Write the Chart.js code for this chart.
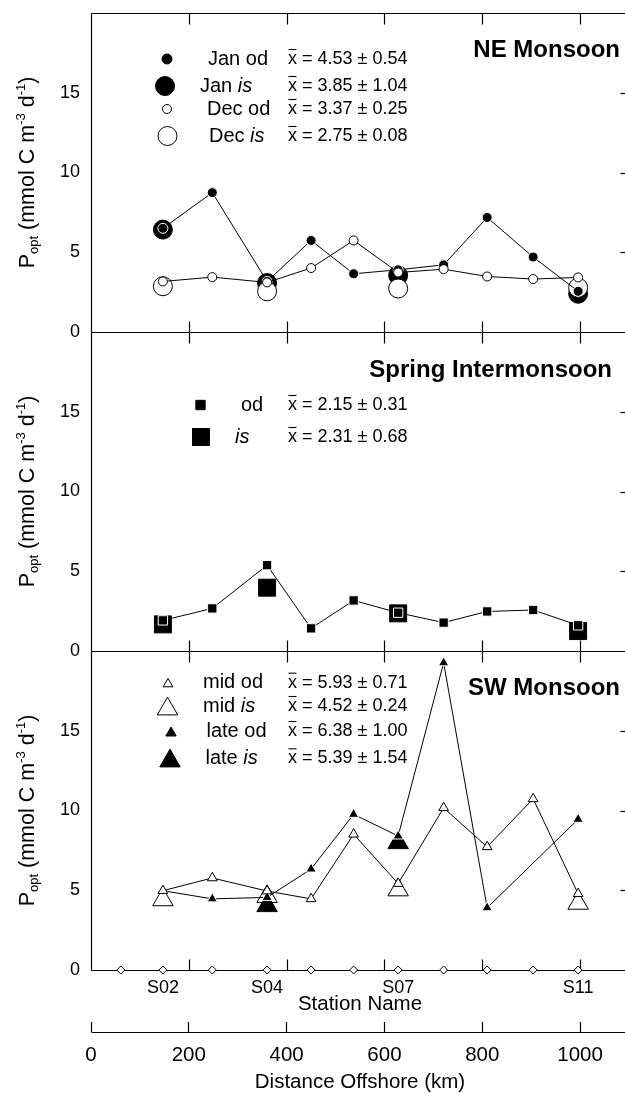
<!DOCTYPE html>
<html>
<head>
<meta charset="utf-8">
<script src="https://cdn.jsdelivr.net/npm/chart.js@4.4.1/dist/chart.umd.min.js"></script>
<style>
  html, body { margin: 0; padding: 0; background: #fff; overflow: hidden; }
  #wrap { position: relative; width: 630px; height: 1093px; }
</style>
</head>
<body>
<div id="wrap"><canvas id="c" width="630" height="1093"></canvas></div>
<script>
// Stations along the transect
const stationNames = ['S01','S02','S03','S04','S05','S06','S07','S08','S09','S10','S11'];
const stationKm    = [61, 147, 248, 360, 450, 537, 628, 721, 810, 904, 996];
const labelledStations = ['S02','S04','S07','S11'];
const distanceTicks = [0, 200, 400, 600, 800, 1000];
const yTicks = [0, 5, 10, 15];

// NE Monsoon, Popt (mmol C m-3 d-1)
const neJanOd = [null, 6.50, 8.74, 3.17, 5.74, 3.65, 3.90, 4.21, 7.18, 4.70, 2.55];
const neJanIs = [null, 6.42, null, 3.07, null, null, 3.55, null, null, null, 2.40];
const neDecOd = [null, 3.17, 3.44, 3.11, 4.01, 5.74, 3.73, 3.94, 3.48, 3.32, 3.42];
const neDecIs = [null, 2.87, null, 2.55, null, null, 2.73, null, null, null, 2.78];

// Spring Intermonsoon
const siOd = [null, 1.92, 2.67, 5.38, 1.42, 3.17, 2.40, 1.78, 2.48, 2.57, 1.61];
const siIs = [null, 1.67, null, 3.97, null, null, 2.36, null, null, null, 1.25];

// SW Monsoon
const swMidOd  = [null, 4.97, 5.77, 4.95, 4.46, 8.51, 5.42, 10.17, 7.72, 10.73, 4.78];
const swMidIs  = [null, 4.40, null, 4.60, null, null, 5.02, null, null, null, 4.18];
const swLateOd = [null, 4.97, 4.46, 4.55, 6.33, 9.76, 8.40, 19.26, 3.90, null, 9.45];
const swLateIs = [null, null, null, 4.03, null, null, 7.98, null, null, null, null];

// Means and standard errors quoted in the panel keys
const neMean = ['4.53', '3.85', '3.37', '2.75'];
const neSE   = ['0.54', '1.04', '0.25', '0.08'];
const siMean = ['2.15', '2.31'];
const siSE   = ['0.31', '0.68'];
const swMean = ['5.93', '4.52', '6.38', '5.39'];
const swSE   = ['0.71', '0.24', '1.00', '1.54'];

const FONT = "'Liberation Sans', Arial, Helvetica, sans-serif";
Chart.defaults.font.family = FONT;
Chart.defaults.color = '#000';

const toPoints = vals => vals.map((v, i) => v == null ? null : { x: stationKm[i], y: v }).filter(p => p);

const SMALL_FILLED = { fill: '#000', edge: '#fff' };
const OPEN         = { fill: '#fff', edge: '#000' };
const BIG_FILLED   = { fill: '#000', edge: '#000' };

function series(label, vals, yAxisID, look, style, r, line, order) {
  return {
    label, data: toPoints(vals), xAxisID: 'x', yAxisID,
    showLine: line, borderColor: '#000', borderWidth: 1,
    pointStyle: style, pointRadius: r, pointHoverRadius: r,
    pointBackgroundColor: look.fill, pointBorderColor: look.edge,
    pointBorderWidth: 1, pointHoverBorderWidth: 1,
    order, clip: false
  };
}

const datasets = [
  // NE Monsoon
  series('Jan is', neJanIs, 'y1', BIG_FILLED, 'circle', 9.5, false, 14),
  series('Dec is', neDecIs, 'y1', OPEN, 'circle', 9.5, false, 13),
  series('Jan od', neJanOd, 'y1', SMALL_FILLED, 'circle', 5, true, 12),
  series('Dec od', neDecOd, 'y1', OPEN, 'circle', 4.5, true, 11),
  // Spring Intermonsoon
  series('is', siIs, 'y2', BIG_FILLED, 'rect', 12, false, 10),
  series('od', siOd, 'y2', SMALL_FILLED, 'rect', 6.6, true, 9),
  // SW Monsoon
  series('mid is', swMidIs, 'y3', OPEN, 'triangle', 11.8, false, 8),
  series('late is', swLateIs, 'y3', BIG_FILLED, 'triangle', 11.8, false, 7),
  series('late od', swLateOd, 'y3', SMALL_FILLED, 'triangle', 6, true, 6),
  series('mid od', swMidOd, 'y3', OPEN, 'triangle', 5.6, true, 5),
  // station positions on the bottom axis
  {
    label: 'stations', data: stationKm.map(k => ({ x: k, y: 0 })), xAxisID: 'x', yAxisID: 'y3',
    showLine: false, pointStyle: 'rectRot', pointRadius: 4, pointHoverRadius: 4,
    pointBackgroundColor: '#fff', pointBorderColor: '#000', pointBorderWidth: 1,
    order: 0, clip: false
  }
];

// no extra label overhang around the plotting area
const noOverhang = s => { s.paddingLeft = 0; s.paddingRight = 0; s.paddingTop = 0; s.paddingBottom = 0; };

function panelAxis(weight) {
  return {
    type: 'linear', position: 'left', stack: 'panels', stackWeight: 1, weight,
    min: 0, max: 20,
    afterBuildTicks: s => { s.ticks = yTicks.map(v => ({ value: v })); },
    afterFit: s => { s.width = 91; noOverhang(s); },
    grid: { display: false, drawTicks: false },
    border: { display: false },
    ticks: { font: { size: 18 }, color: '#000', padding: 11, callback: v => String(v) }
  };
}

// Panel frames, inward tick marks and the distance axis line
const framePlugin = {
  id: 'frames',
  beforeDatasetsDraw(chart) {
    const { ctx, chartArea } = chart;
    const xS = chart.scales.x;
    const L = Math.round(chartArea.left) + 0.5, R = Math.round(chartArea.right) - 0.5;
    const seg = (x1, y1, x2, y2) => { ctx.beginPath(); ctx.moveTo(x1, y1); ctx.lineTo(x2, y2); ctx.stroke(); };
    ctx.save();
    ctx.strokeStyle = '#000';
    ctx.lineWidth = 1.2;
    ['y1', 'y2', 'y3'].forEach(id => {
      const s = chart.scales[id];
      const y0 = Math.round(s.getPixelForValue(0)) + 0.5;
      const yTop = Math.round(s.getPixelForValue(20)) + 0.5;
      seg(L, yTop, R, yTop);
      seg(L, y0, R, y0);
      seg(L, yTop, L, y0);
      seg(R, yTop, R, y0);
      distanceTicks.forEach(v => {
        if (v === 0) return;
        const x = Math.round(xS.getPixelForValue(v)) + 0.5;
        seg(x, yTop, x, yTop + 11);
        seg(x, y0, x, y0 - 11);
      });
      yTicks.forEach(v => {
        if (v === 0) return;
        const y = Math.round(s.getPixelForValue(v)) + 0.5;
        seg(R - 8, y, R, y);
      });
    });
    // distance axis baseline below its tick marks
    const yd = Math.round(xS.top + 10) + 0.5;
    seg(L, yd, R + 2, yd);
    ctx.restore();
  }
};

// Y titles with sub/superscripts
function drawYTitle(ctx, cx, cy) {
  const big = `21.5px ${FONT}`, small = `13px ${FONT}`;
  const parts = [['P', big, 0], ['opt', small, 4], [' (mmol C m', big, 0], ['-3', small, -9],
                 [' d', big, 0], ['-1', small, -9], [')', big, 0]];
  ctx.save();
  ctx.translate(cx, cy);
  ctx.rotate(-Math.PI / 2);
  ctx.fillStyle = '#000';
  ctx.textBaseline = 'alphabetic';
  ctx.textAlign = 'left';
  let total = 0;
  parts.forEach(p => { ctx.font = p[1]; total += ctx.measureText(p[0]).width; });
  let x = -total / 2;
  parts.forEach(p => { ctx.font = p[1]; ctx.fillText(p[0], x, p[2]); x += ctx.measureText(p[0]).width; });
  ctx.restore();
}

// "x̄ = m ± se" with an overbar drawn above the x
function drawStat(ctx, x, y, mean, se) {
  ctx.font = `18px ${FONT}`;
  ctx.textAlign = 'left';
  ctx.textBaseline = 'middle';
  ctx.fillText('x', x, y);
  const w = ctx.measureText('x').width;
  ctx.save();
  ctx.lineWidth = 1.1;
  ctx.beginPath();
  ctx.moveTo(x + 0.5, y - 9.5);
  ctx.lineTo(x + w - 0.5, y - 9.5);
  ctx.stroke();
  ctx.restore();
  ctx.fillText(` = ${mean} \u00B1 ${se}`, x + w, y);
}

function drawLabel(ctx, x, y, name, tag) {
  ctx.textAlign = 'left';
  ctx.textBaseline = 'middle';
  let cx = x;
  if (name) {
    ctx.font = `20px ${FONT}`;
    ctx.fillText(name + ' ', cx, y);
    cx += ctx.measureText(name + ' ').width;
  }
  ctx.font = (tag === 'is' ? 'italic ' : '') + `20px ${FONT}`;
  ctx.fillText(tag, cx, y);
}

function drawSymbol(ctx, style, r, look, x, y) {
  ctx.save();
  ctx.fillStyle = look.fill === '#fff' ? '#fff' : '#000';
  ctx.strokeStyle = '#000';
  ctx.lineWidth = 1;
  Chart.helpers.drawPoint(ctx, { pointStyle: style, radius: r, borderWidth: 1, rotation: 0 }, x, y);
  ctx.restore();
}

const keyPlugin = {
  id: 'keys',
  afterDatasetsDraw(chart) {
    const { ctx } = chart;
    ctx.save();
    ctx.fillStyle = '#000';

    ['y1', 'y2', 'y3'].forEach(id => {
      const s = chart.scales[id];
      drawYTitle(ctx, 34, (s.top + s.bottom) / 2);
    });

    // panel headings
    ctx.font = `bold 24px ${FONT}`;
    ctx.textAlign = 'right';
    ctx.textBaseline = 'middle';
    ctx.fillText('NE Monsoon', 620, 50);
    ctx.fillText('Spring Intermonsoon', 612, 370);
    ctx.fillText('SW Monsoon', 620, 688);

    // NE Monsoon key
    const ne = [
      ['circle', 5, BIG_FILLED, 167, 59, 208, 'Jan', 'od'],
      ['circle', 9.5, BIG_FILLED, 165, 86, 200, 'Jan', 'is'],
      ['circle', 4.5, OPEN, 167, 109, 207, 'Dec', 'od'],
      ['circle', 9.5, OPEN, 167.5, 136, 209, 'Dec', 'is']
    ];
    ne.forEach((k, i) => {
      drawSymbol(ctx, k[0], k[1], k[2], k[3], k[4]);
      ctx.fillStyle = '#000';
      drawLabel(ctx, k[5], k[4], k[6], k[7]);
      drawStat(ctx, 288, k[4], neMean[i], neSE[i]);
    });

    // Spring Intermonsoon key
    const si = [
      ['rect', 6.6, BIG_FILLED, 200.5, 405, 241, '', 'od'],
      ['rect', 12, BIG_FILLED, 201, 437, 235, '', 'is']
    ];
    si.forEach((k, i) => {
      drawSymbol(ctx, k[0], k[1], k[2], k[3], k[4]);
      ctx.fillStyle = '#000';
      drawLabel(ctx, k[5], k[4], k[6], k[7]);
      drawStat(ctx, 288, k[4], siMean[i], siSE[i]);
    });

    // SW Monsoon key
    const sw = [
      ['triangle', 5.6, OPEN, 168, 684, 203, 'mid', 'od'],
      ['triangle', 11.8, OPEN, 167.5, 709, 203, 'mid', 'is'],
      ['triangle', 6, BIG_FILLED, 171, 733, 206.5, 'late', 'od'],
      ['triangle', 11.8, BIG_FILLED, 170, 761, 205.5, 'late', 'is']
    ];
    const swRows = [682.7, 706, 731, 758.3];
    sw.forEach((k, i) => {
      drawSymbol(ctx, k[0], k[1], k[2], k[3], k[4]);
      ctx.fillStyle = '#000';
      drawLabel(ctx, k[5], swRows[i], k[6], k[7]);
      drawStat(ctx, 288, swRows[i], swMean[i], swSE[i]);
    });
    ctx.restore();
  }
};

new Chart(document.getElementById('c'), {
  type: 'scatter',
  data: { datasets },
  options: {
    responsive: false,
    animation: false,
    devicePixelRatio: 1,
    layout: { autoPadding: false, padding: { top: 13, left: 0, right: 1, bottom: 0 } },
    plugins: { legend: { display: false }, tooltip: { enabled: false } },
    events: [],
    scales: {
      xs: {
        type: 'linear', position: 'bottom', weight: 0, min: 0, max: 1100,
        afterBuildTicks: s => {
          s.ticks = labelledStations.map(n => ({ value: stationKm[stationNames.indexOf(n)] }));
        },
        afterFit: s => { s.height = 52; noOverhang(s); },
        grid: { display: false, drawTicks: false },
        border: { display: false },
        ticks: {
          font: { size: 18 }, color: '#000', padding: 7, maxRotation: 0, autoSkip: false,
          callback: v => stationNames[stationKm.indexOf(v)]
        },
        title: { display: true, text: 'Station Name', font: { size: 20.5 }, color: '#000', padding: { top: 0, bottom: 5 } }
      },
      x: {
        type: 'linear', position: 'bottom', weight: 1, min: 0, max: 1100,
        afterBuildTicks: s => { s.ticks = distanceTicks.map(v => ({ value: v })); },
        afterFit: s => { s.height = 71; noOverhang(s); },
        grid: { display: true, drawOnChartArea: false, drawTicks: true, tickLength: 10, color: '#000', tickColor: '#000', tickWidth: 1.2 },
        border: { display: false },
        ticks: { font: { size: 20.5 }, color: '#000', padding: 11, maxRotation: 0, autoSkip: false, callback: v => String(v) },
        title: { display: true, text: 'Distance Offshore (km)', font: { size: 20.5, lineHeight: 1.0 }, color: '#000', padding: { top: 0, bottom: 0 } }
      },
      y3: panelAxis(1),
      y2: panelAxis(2),
      y1: panelAxis(3)
    }
  },
  plugins: [framePlugin, keyPlugin]
});
</script>
</body>
</html>
